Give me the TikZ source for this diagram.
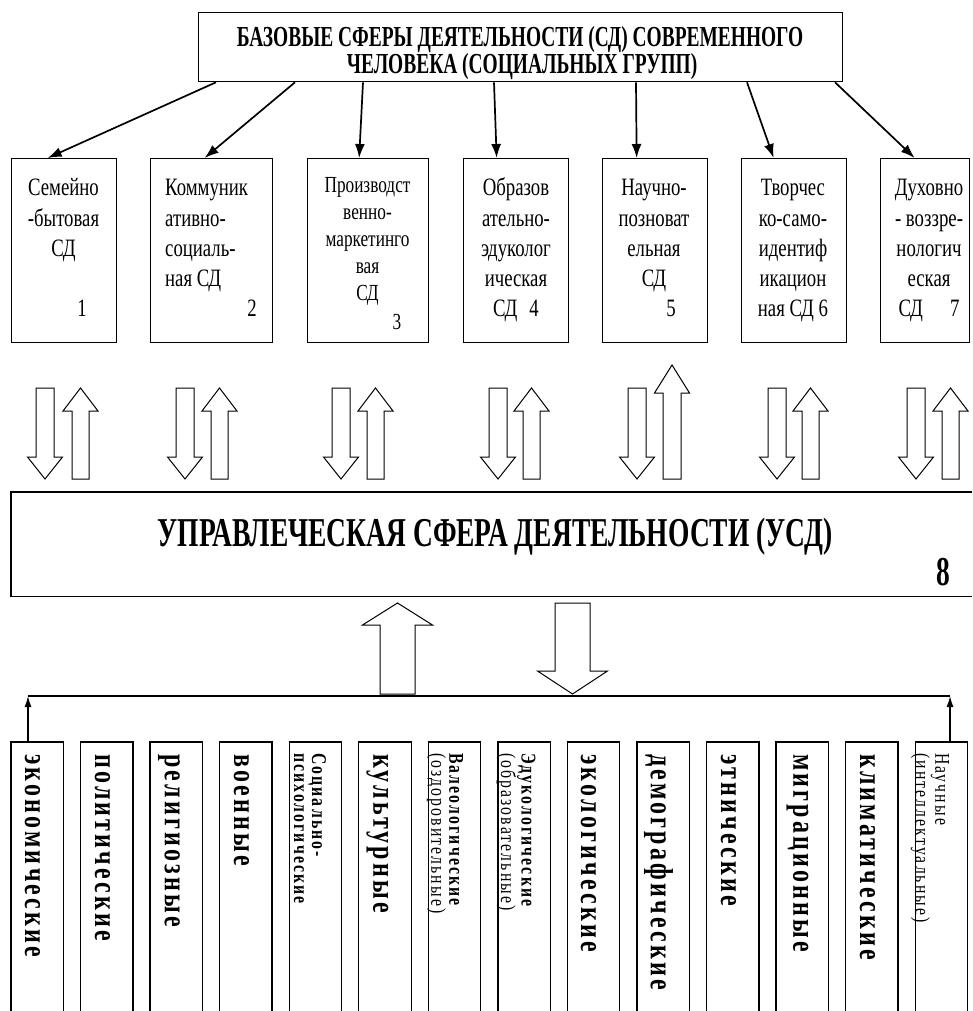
\documentclass[tikz,border=0pt]{standalone}
\usepackage{fontspec}
\setmainfont{Liberation Serif}[FakeStretch=0.75]
\newfontfamily\headfont{Liberation Serif}[FakeStretch=0.67]
\newfontfamily\vfont{Liberation Serif}[FakeStretch=0.75,LetterSpace=10]
\newfontfamily\vbfont{Liberation Serif}[FakeStretch=0.75,LetterSpace=10]
\usetikzlibrary{arrows.meta,calc}
\newcommand{\bdown}[6]{% left, top, tip, shaft w, head w, head h
  \draw[barrow] (#1,#2) -- ({#1+#4},#2) -- ({#1+#4},{#3-#6}) -- ({#1+#4/2+#5/2},{#3-#6}) -- ({#1+#4/2},#3) -- ({#1+#4/2-#5/2},{#3-#6}) -- (#1,{#3-#6}) -- cycle;}
\newcommand{\bup}[6]{% left, bottom, tip, shaft w, head w, head h
  \draw[barrow] (#1,#2) -- ({#1+#4},#2) -- ({#1+#4},{#3+#6}) -- ({#1+#4/2+#5/2},{#3+#6}) -- ({#1+#4/2},#3) -- ({#1+#4/2-#5/2},{#3+#6}) -- (#1,{#3+#6}) -- cycle;}
\newcommand{\sdlines}[6]{% name, style, x, first baseline y, dy, list
  \foreach \ln [count=\i] in {#6} \node[sdt,#2] (#1-\i) at (#3,{#4+(\i-1)*#5}) {\ln};}
\begin{document}
\begin{tikzpicture}[x=1pt,y=-1pt,
  box/.style={draw,line width=1.3pt,inner sep=0pt},
  sdt/.style={inner sep=0pt,font=\fontsize{25}{30}\selectfont},
  conn/.style={draw,line width=1.7pt,-{Latex[length=14pt,width=10pt]}},
  barrow/.style={draw,line width=1pt,fill=white,line join=miter},
  head/.style={inner sep=0pt,anchor=base,font=\headfont\bfseries\fontsize{29}{29}\selectfont},
  big/.style={rotate=-90,anchor=west,inner sep=0pt,font=\vbfont\bfseries\fontsize{32}{32}\selectfont},
  small/.style={rotate=-90,anchor=west,inner sep=0pt,align=left,font=\vfont\fontsize{21}{18}\selectfont}]
\useasboundingbox[fill=white] (0,0) rectangle (973,1011);

% top box
\node[box,anchor=north west,minimum width=644,minimum height=69] (top) at (198,12) {};
\node[head] (h1) at (520,46.5) {БАЗОВЫЕ СФЕРЫ ДЕЯТЕЛЬНОСТИ (СД) СОВРЕМЕННОГО};
\node[head] (h2) at (522,74) {ЧЕЛОВЕКА (СОЦИАЛЬНЫХ ГРУПП)};

% SD boxes
\node[box,anchor=north west,minimum width=105,minimum height=184] (sd1) at (11,158) {};
\node[box,anchor=north west,minimum width=122,minimum height=184] (sd2) at (150,158) {};
\node[box,anchor=north west,minimum width=121,minimum height=184] (sd3) at (307,158) {};
\node[box,anchor=north west,minimum width=105,minimum height=184] (sd4) at (463,158) {};
\node[box,anchor=north west,minimum width=105,minimum height=184] (sd5) at (602,158) {};
\node[box,anchor=north west,minimum width=105,minimum height=184] (sd6) at (741,158) {};
\node[box,anchor=north west,minimum width=89,minimum height=184] (sd7) at (880,158) {};

\sdlines{a1}{anchor=base}{63.5}{196}{30}{Семейно,-бытовая,СД}
\node[sdt] (n1) at (82,308) {1};
\sdlines{a2}{anchor=base west}{165}{196}{30}{Коммуник,ативно-,социаль-,ная СД}
\node[sdt] (n2) at (252,308) {2};
\sdlines{a3}{anchor=base,font=\fontsize{23}{27}\selectfont}{367.5}{192.5}{27}{Производст,венно-,маркетинго,вая,СД}
\node[sdt,font=\fontsize{23}{27}\selectfont] (n3) at (397,322) {3};
\sdlines{a4}{anchor=base}{516}{196}{30}{Образов,ательно-,эдуколог,ическая,СД\hspace{12pt}4}
\sdlines{a5}{anchor=base}{654}{196}{30}{Научно-,позноват,ельная,СД}
\node[sdt] (n5) at (671,308) {5};
\sdlines{a6}{anchor=base}{793}{196}{30}{Творчес,ко-само-,идентиф,икацион,ная СД 6}
\sdlines{a7}{anchor=base}{929}{196}{30}{Духовно,- воззре-,нологич,еская,СД\hspace{27pt}7}

% connectors top -> SD
\draw[conn] ($(top.south west)+(18,0)$) -- ($(sd1.north)+(-16.5,0)$);
\draw[conn] ($(top.south west)+(97,0)$) -- ($(sd2.north)+(-7,0)$);
\draw[conn] ($(top.south west)+(165,0)$) -- ($(sd3.north)+(-9,0)$);
\draw[conn] ($(top.south west)+(296,0)$) -- ($(sd4.north)+(-19.5,0)$);
\draw[conn] ($(top.south west)+(438,0)$) -- ($(sd5.north)+(-18.5,0)$);
\draw[conn] ($(top.south west)+(549,0)$) -- ($(sd6.north)+(-20.5,0)$);
\draw[conn] ($(top.south west)+(637,0)$) -- ($(sd7.north)+(-10.5,0)$);

% double block arrows
\foreach \xd in {36,176,332,489,628,768,907} {
  \bdown{\xd}{388}{479}{18}{35}{22}
}
\foreach \xu in {72,211,367,523,802,942} {
  \bup{\xu}{479}{388}{17}{35}{23}
}
\bup{663}{479}{365}{18}{35}{28}

% management box
\node[inner sep=0pt,anchor=north west,minimum width=961,minimum height=104] (usd) at (11,492) {};
\draw[line width=1.3pt] (usd.north east) -- (usd.north west) -- (usd.south west) -- (usd.south east);
\node[head,font=\headfont\bfseries\fontsize{41}{41}\selectfont] (usdt) at (495,546) {УПРАВЛЕЧЕСКАЯ СФЕРА ДЕЯТЕЛЬНОСТИ (УСД)};
\node[head,font=\headfont\bfseries\fontsize{41}{41}\selectfont] (n8) at (943,585) {8};

% big arrows below
\bup{380}{694}{603}{35}{70}{22}
\bdown{555}{603}{694}{35}{70}{23}

% horizontal line
\coordinate (hlL) at (28,696);
\coordinate (hlR) at (950,696);
\draw[line width=1.3pt] (hlL) -- (hlR);

% bottom boxes
\foreach \i in {1,...,14} {
  \node[inner sep=0pt,anchor=north west,minimum width=52,minimum height=269] (b\i) at ({11+69.55*(\i-1)},742) {};
  \draw[line width=1.3pt] (b\i.south west) -- (b\i.north west) -- (b\i.north east) -- (b\i.south east);
}
\draw[line width=1.3pt,-{Latex[length=11pt,width=7pt]}] (b1.north -| hlL) -- (hlL);
\draw[line width=1.3pt,-{Latex[length=11pt,width=7pt]}] (b14.north -| hlR) -- (hlR);

% vertical labels
\node[big] (l1) at (32.5,754) {экономические};
\node[big] (l2) at (102.5,754) {политические};
\node[big] (l3) at (169,754) {религиозные};
\node[big] (l4) at (241.5,754) {военные};
\node[small,font=\vfont\bfseries\fontsize{21}{18}\selectfont] (l5) at (310,753) {Социально-\\психологические};
\node[big] (l6) at (377.5,754) {культурные};
\node[small] (l7) at (445,753) {\textbf{Валеологические}\\(оздоровительные)};
\node[small] (l8) at (516,753) {\textbf{Эдукологические}\\(образовательные)};
\node[big] (l9) at (588.5,754) {экологические};
\node[big] (l10) at (658.5,754) {демографические};
\node[big] (l11) at (728.5,754) {этнические};
\node[big] (l12) at (797.5,754) {миграционные};
\node[big] (l13) at (867.5,754) {климатические};
\node[small] (l14) at (930,753) {Научные\\(интеллектуальные)};
\end{tikzpicture}
\end{document}
